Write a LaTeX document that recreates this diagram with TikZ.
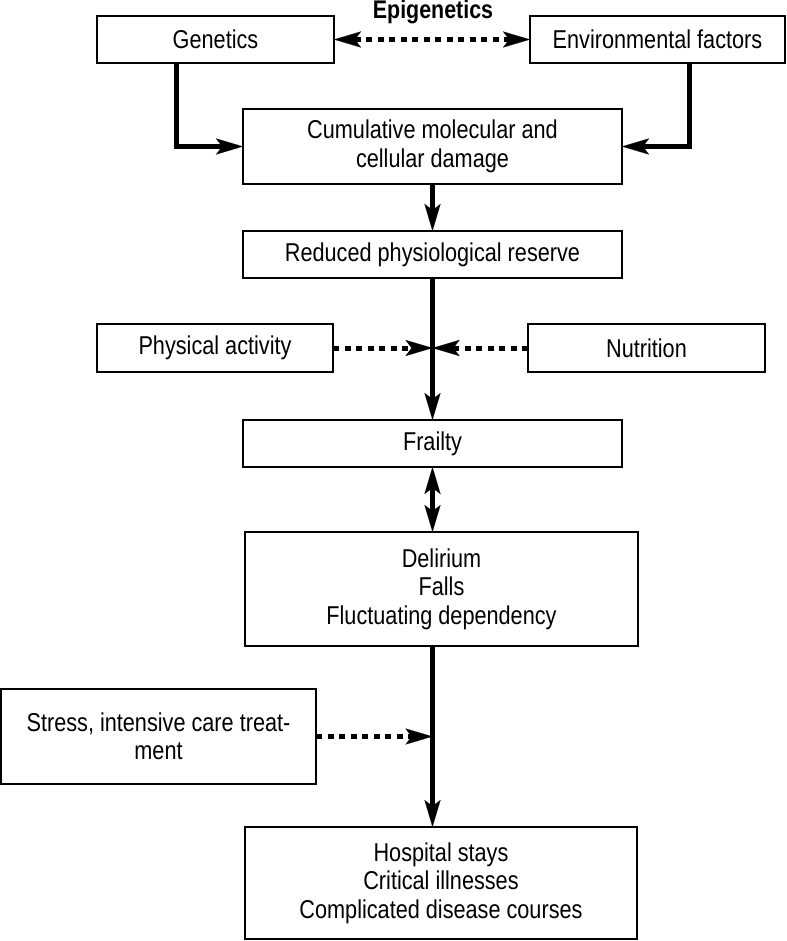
\documentclass[tikz,border=0pt]{standalone}
\usepackage{fontspec}
\setmainfont{Liberation Sans}[FakeStretch=0.84]
\usetikzlibrary{arrows.meta}
\tikzset{
  frbox/.style={
    draw=black, line width=1.5pt, align=center, inner sep=0pt, outer sep=0pt
  },
  tip/.tip={Stealth[length=27pt,width=16pt,inset=6pt,line width=0.1pt]},
  arr/.style={-tip, draw=black, line width=5pt},
  darr/.style={arr, dash pattern=on 6pt off 5.5pt},
  ddarr/.style={darr, tip-tip},
  barr/.style={arr, tip-tip},
  every picture/.append style={font=\fontsize{25.8}{28.5}\selectfont}
}

\begin{document}
\begin{tikzpicture}[x=1pt, y=-1pt]
  \useasboundingbox (0,0) rectangle (786,941);
  % top row
  \node[font=\fontsize{25.5}{28}\selectfont\bfseries] (epi) at (433,12) {Epigenetics};
  \node[frbox, minimum width=237pt, minimum height=47pt] (gen) at (215.5,39.5) {Genetics};
  \node[frbox, minimum width=255pt, minimum height=47pt] (env) at (657.5,39.5) {Environmental factors};
  \node[frbox, minimum width=379pt, minimum height=75pt] (cum) at (432.5,146.5)
    {Cumulative molecular and\\cellular damage};
  \node[frbox, minimum width=379pt, minimum height=47pt] (red) at (432.5,254.5)
    {Reduced physiological reserve};
  % modifiers
  \node[frbox, minimum width=236pt, minimum height=48pt] (phys) at (215,348) {Physical activity};
  \node[frbox, minimum width=237pt, minimum height=48pt] (nut) at (646.5,348) {Nutrition};
  \node[frbox, minimum width=379pt, minimum height=47pt] (fra) at (432.5,443.5) {Frailty};
  \node[frbox, minimum width=393pt, minimum height=114pt] (del) at (441.5,589)
    {Delirium\\Falls\\Fluctuating dependency};
  \node[frbox, minimum width=315pt, minimum height=95pt] (str) at (158.5,736.5)
    {Stress, intensive care treat-\\ment};
  \node[frbox, minimum width=392pt, minimum height=112pt] (hos) at (441,883)
    {Hospital stays\\Critical illnesses\\Complicated disease courses};

  \coordinate (jpa) at (432.5,348);
  \coordinate (jst) at (432.5,736.5);

  \draw[ddarr] (gen) -- (env);
  \draw[arr] ([xshift=-39.5pt]gen.south) |- (cum.west);
  \draw[arr] ([xshift=31.5pt]env.south) |- (cum.east);
  \draw[arr] (cum) -- (red);
  \draw[arr] (red) -- (fra);
  \draw[darr] (phys) -- (jpa);
  \draw[darr] (nut) -- (jpa);
  \draw[barr] (fra.south) -- (fra.south |- del.north);
  \draw[arr] (fra.south |- del.south) -- (fra.south |- hos.north);
  \draw[darr] (str) -- (jst);
\end{tikzpicture}
\end{document}
